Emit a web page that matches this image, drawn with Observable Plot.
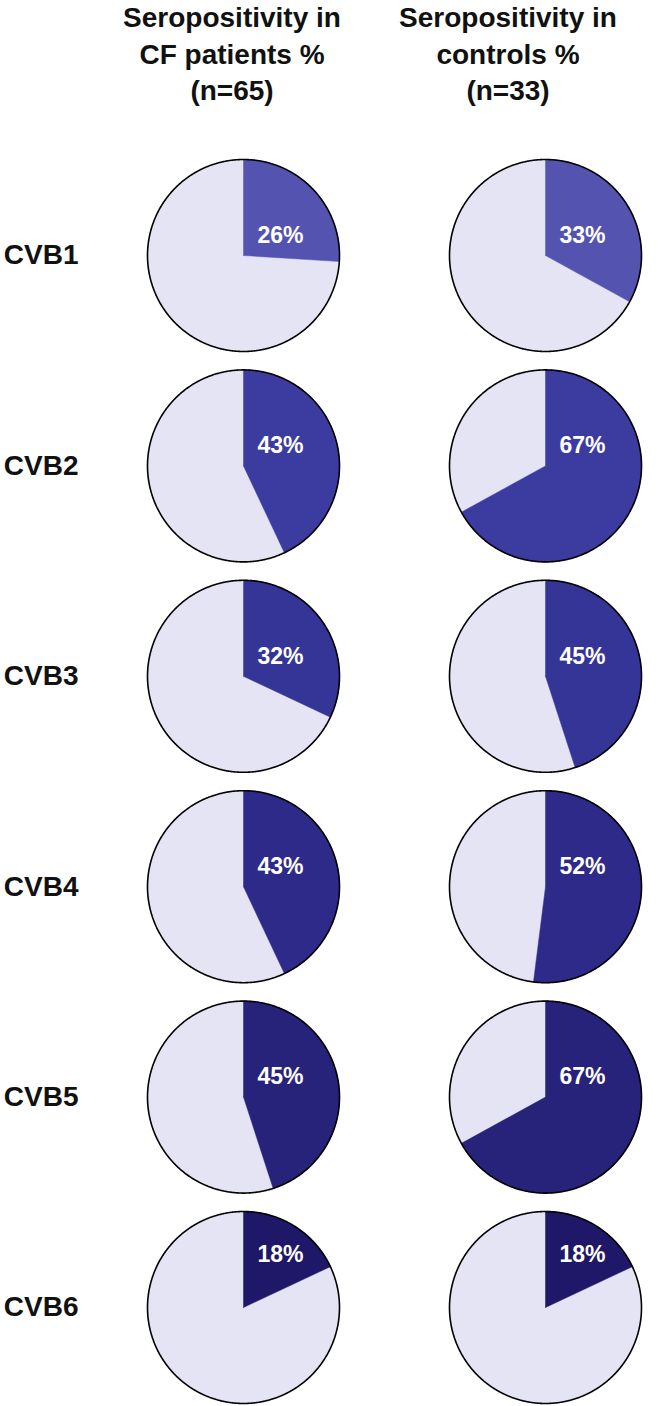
<!DOCTYPE html>
<html>
<head>
<meta charset="utf-8">
<script src="https://cdn.jsdelivr.net/npm/d3@7"></script>
<script src="https://cdn.jsdelivr.net/npm/@observablehq/plot@0.6"></script>
<style>
  html, body { margin: 0; padding: 0; background: #fff; }
  #header { position: relative; height: 110px; font-family: "Liberation Sans", Arial, sans-serif; font-weight: bold; font-size: 28px; line-height: 36.5px; color: #111; }
  #header .col { position: absolute; top: 0; width: 270px; text-align: center; white-space: nowrap; }
</style>
</head>
<body>
<div id="header"></div>
<div id="chart"></div>
<script>
// ---- data ----
const viruses = ["CVB1", "CVB2", "CVB3", "CVB4", "CVB5", "CVB6"];
const groups = ["CF patients", "controls"];
const groupTitles = [
  ["Seropositivity in", "CF patients %", "(n=65)"],
  ["Seropositivity in", "controls %", "(n=33)"]
];
const cfValues = [26, 43, 32, 43, 45, 18];
const controlValues = [33, 67, 45, 52, 67, 18];
const sliceColors = ["#5454b0", "#3c3ca0", "#353597", "#2e2a8a", "#27237a", "#1f1767"];
const restColor = "#e4e4f4";

// ---- header ----
const header = document.getElementById("header");
const titleCenters = [232, 508];
groupTitles.forEach((lines, i) => {
  const div = document.createElement("div");
  div.className = "col";
  div.style.left = (titleCenters[i] - 135) + "px";
  div.innerHTML = lines.join("<br>");
  header.appendChild(div);
});

// ---- build pie geometry (unit circle, clockwise from top) ----
const valuesByGroup = [cfValues, controlValues];
const pies = [];
groups.forEach((g, gi) => {
  viruses.forEach((v, vi) => {
    pies.push({group: g, virus: v, value: valuesByGroup[gi][vi], color: sliceColors[vi]});
  });
});

function arcPoints(a0, a1) {
  const pts = [];
  const n = Math.max(2, Math.ceil(Math.abs(a1 - a0) / (Math.PI / 360)));
  for (let i = 0; i <= n; i++) {
    const a = a0 + (a1 - a0) * i / n;
    pts.push([Math.sin(a), Math.cos(a)]);
  }
  return pts;
}

const wedges = [];
const outlines = [];
pies.forEach((p, pi) => {
  const a = p.value / 100 * 2 * Math.PI;
  const pos = [[0, 0], ...arcPoints(0, a), [0, 0]];
  const neg = [[0, 0], ...arcPoints(a, 2 * Math.PI), [0, 0]];
  neg.forEach(([x, y]) => wedges.push({id: pi + "-rest", group: p.group, virus: p.virus, x, y, fill: restColor}));
  pos.forEach(([x, y]) => wedges.push({id: pi + "-pos", group: p.group, virus: p.virus, x, y, fill: p.color}));
  arcPoints(0, 2 * Math.PI).forEach(([x, y]) => outlines.push({id: pi, group: p.group, virus: p.virus, x, y}));
});

const chart = Plot.plot({
  width: 664,
  height: 1296,
  marginLeft: 147,
  marginRight: 23,
  marginTop: 49,
  marginBottom: 3,
  style: {fontFamily: "'Liberation Sans', Arial, sans-serif", color: "#111", background: "#fff"},
  x: {domain: [-1, 1], axis: null},
  y: {domain: [-1, 1], axis: null},
  fx: {domain: groups, axis: null, paddingInner: 110 / 302, paddingOuter: 0, round: false},
  fy: {domain: viruses, paddingInner: 18.4 / 210.4, paddingOuter: 0, round: false},
  color: {type: "identity"},
  marks: [
    Plot.line(wedges, {x: "x", y: "y", z: "id", fx: "group", fy: "virus", fill: "fill", stroke: "fill", strokeWidth: 0.5, curve: "linear"}),
    Plot.line(outlines, {x: "x", y: "y", z: "id", fx: "group", fy: "virus", stroke: "#000", strokeWidth: 1.6, fill: "none"}),
    Plot.text(pies, {
      x: () => 0.385,
      y: d => (d.value < 20 ? 0.55 : 0.21),
      fx: "group", fy: "virus",
      text: d => d.value + "%",
      fill: "#fff", fontSize: 23, fontWeight: "bold"
    }),
    Plot.axisFy({anchor: "left", tickSize: 0, tickPadding: 69, fontSize: 28, fontWeight: "bold", label: null, fill: "#111"})
  ]
});
document.getElementById("chart").appendChild(chart);
</script>
</body>
</html>
